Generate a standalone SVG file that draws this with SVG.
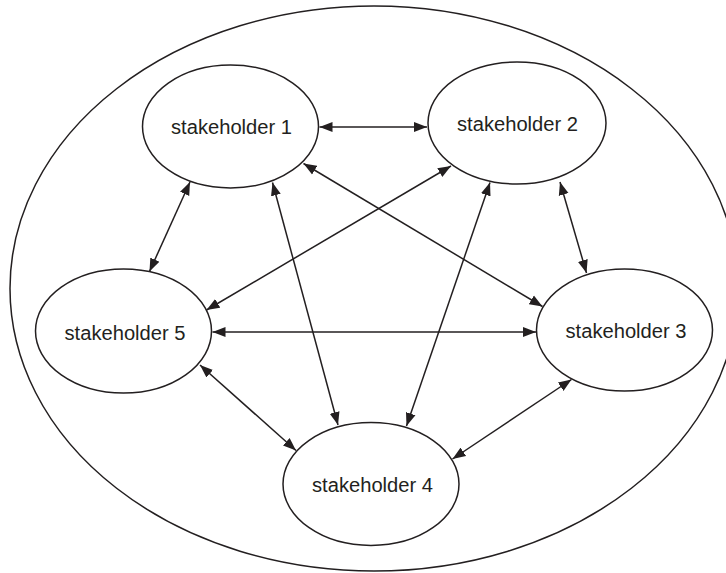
<svg xmlns="http://www.w3.org/2000/svg" width="726" height="573" viewBox="0 0 726 573">
  <style>
    .boundary { fill: none; stroke: #231f20; stroke-width: 1.5; }
    .node ellipse { fill: #ffffff; stroke: #231f20; stroke-width: 1.5; }
    .node text { font-family: "Liberation Sans", Arial, sans-serif; font-size: 19.5px; fill: #231f20; text-anchor: middle; }
    .links line { stroke: #231f20; stroke-width: 1.5; marker-start: url(#head); marker-end: url(#head); }
  </style>
  <defs>
    <marker id="head" markerUnits="userSpaceOnUse" markerWidth="14" markerHeight="11" refX="13" refY="5" orient="auto-start-reverse" viewBox="0 0 14 10">
      <path d="M0,0 L13,5 L0,10 z" fill="#231f20"/>
    </marker>
  </defs>

  <rect width="726" height="573" fill="#ffffff"/>

  <!-- enclosing boundary -->
  <ellipse class="boundary" cx="374" cy="288.5" rx="364" ry="282.5"/>

  <!-- bidirectional links between stakeholders -->
  <g class="links">
    <line x1="319.5" y1="127" x2="427" y2="127"/>
    <line x1="190" y1="182" x2="149.5" y2="271.5"/>
    <line x1="272.5" y1="182.5" x2="338" y2="425"/>
    <line x1="303.5" y1="163.5" x2="542.5" y2="306.5"/>
    <line x1="451" y1="166" x2="206.5" y2="310"/>
    <line x1="560" y1="182" x2="586.5" y2="273"/>
    <line x1="490" y1="182.5" x2="406.5" y2="426"/>
    <line x1="212.5" y1="332" x2="536" y2="332"/>
    <line x1="200" y1="365" x2="296" y2="450.5"/>
    <line x1="571.5" y1="379.5" x2="452.5" y2="459"/>
  </g>

  <g id="stakeholder-1" class="node">
    <ellipse cx="230.5" cy="126.5" rx="88" ry="61.5"/>
    <text x="231.5" y="134" textLength="121" lengthAdjust="spacingAndGlyphs">stakeholder 1</text>
  </g>
  <g id="stakeholder-2" class="node">
    <ellipse cx="517" cy="123" rx="89" ry="61"/>
    <text x="517.5" y="131" textLength="121" lengthAdjust="spacingAndGlyphs">stakeholder 2</text>
  </g>
  <g id="stakeholder-3" class="node">
    <ellipse cx="624.5" cy="330" rx="88" ry="61"/>
    <text x="626" y="338" textLength="121" lengthAdjust="spacingAndGlyphs">stakeholder 3</text>
  </g>
  <g id="stakeholder-4" class="node">
    <ellipse cx="371" cy="484" rx="88" ry="61.5"/>
    <text x="372.5" y="492" textLength="121" lengthAdjust="spacingAndGlyphs">stakeholder 4</text>
  </g>
  <g id="stakeholder-5" class="node">
    <ellipse cx="123.5" cy="331" rx="88" ry="62"/>
    <text x="125" y="340" textLength="121" lengthAdjust="spacingAndGlyphs">stakeholder 5</text>
  </g>
</svg>
